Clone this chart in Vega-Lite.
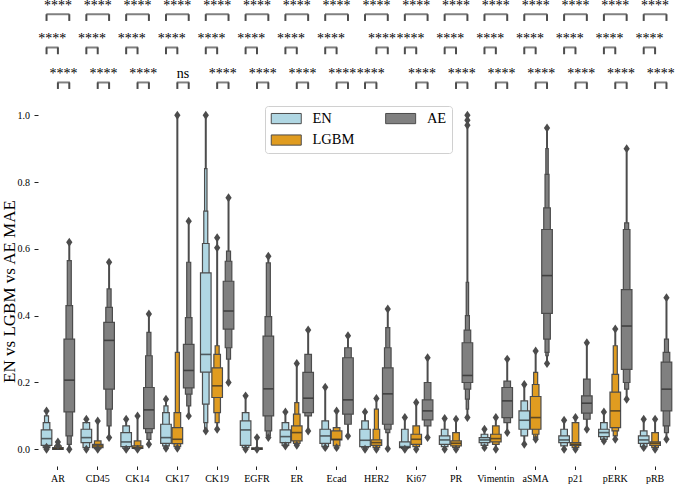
{
"$schema": "https://vega.github.io/schema/vega-lite/v6.json",
"width": 637, "height": 466,
"autosize": {"type": "none"},
"padding": {"left": 38, "top": 0, "right": 0, "bottom": 18},
"config": {"view": {"stroke": null}, "font": "Liberation Serif",
  "axis": {"labelFont": "Liberation Serif", "titleFont": "Liberation Serif", "labelColor": "#000", "titleColor": "#000", "domain": false, "grid": false, "tickColor": "#222", "labelFontSize": 10},
  "legend": {"orient": "none", "legendX": 227, "legendY": 106, "columns": 2,
    "symbolType": "M-1,-0.85H4V0.85H-1Z", "symbolSize": 144, "symbolStrokeColor": "#4c4c4c", "symbolStrokeWidth": 1, "symbolOpacity": 1,
    "labelFont": "Liberation Serif", "labelFontSize": 14.5, "labelColor": "#000", "labelOffset": 28, "columnPadding": 28.4, "rowPadding": 5.8,
    "padding": 5, "strokeColor": "#d0d0d0", "cornerRadius": 3, "fillColor": "#ffffff"}},
"datasets": {
"boxes": [
{"m":"AR","g":"EN","k":1,"lo":0.012,"hi":0.058},{"m":"AR","g":"EN","k":2,"lo":0.005,"hi":0.08},{"m":"AR","g":"EN","k":3,"lo":0.002,"hi":0.10},
{"m":"AR","g":"LGBM","k":1,"lo":0.0,"hi":0.005},{"m":"AR","g":"LGBM","k":2,"lo":0.0,"hi":0.01},
{"m":"AR","g":"AE","k":1,"lo":0.112,"hi":0.33},{"m":"AR","g":"AE","k":2,"lo":0.04,"hi":0.43},{"m":"AR","g":"AE","k":3,"lo":0.015,"hi":0.565},
{"m":"CD45","g":"EN","k":1,"lo":0.02,"hi":0.06},{"m":"CD45","g":"EN","k":2,"lo":0.005,"hi":0.08},
{"m":"CD45","g":"LGBM","k":1,"lo":0.005,"hi":0.015},{"m":"CD45","g":"LGBM","k":2,"lo":0.002,"hi":0.025},
{"m":"CD45","g":"AE","k":1,"lo":0.18,"hi":0.38},{"m":"CD45","g":"AE","k":2,"lo":0.12,"hi":0.425},{"m":"CD45","g":"AE","k":3,"lo":0.07,"hi":0.48},
{"m":"CK14","g":"EN","k":1,"lo":0.008,"hi":0.05},{"m":"CK14","g":"EN","k":2,"lo":0.003,"hi":0.07},
{"m":"CK14","g":"LGBM","k":1,"lo":0.003,"hi":0.01},{"m":"CK14","g":"LGBM","k":2,"lo":0.002,"hi":0.025},
{"m":"CK14","g":"AE","k":1,"lo":0.062,"hi":0.185},{"m":"CK14","g":"AE","k":2,"lo":0.05,"hi":0.28},{"m":"CK14","g":"AE","k":3,"lo":0.03,"hi":0.35},
{"m":"CK17","g":"EN","k":1,"lo":0.018,"hi":0.075},{"m":"CK17","g":"EN","k":2,"lo":0.01,"hi":0.11},{"m":"CK17","g":"EN","k":3,"lo":0.005,"hi":0.13},
{"m":"CK17","g":"LGBM","k":1,"lo":0.017,"hi":0.065},{"m":"CK17","g":"LGBM","k":2,"lo":0.008,"hi":0.11},{"m":"CK17","g":"LGBM","k":3,"lo":0.005,"hi":0.29},
{"m":"CK17","g":"AE","k":1,"lo":0.184,"hi":0.314},{"m":"CK17","g":"AE","k":2,"lo":0.165,"hi":0.394},{"m":"CK17","g":"AE","k":3,"lo":0.13,"hi":0.56},
{"m":"CK19","g":"EN","k":1,"lo":0.231,"hi":0.528},{"m":"CK19","g":"EN","k":2,"lo":0.135,"hi":0.616},{"m":"CK19","g":"EN","k":3,"lo":0.08,"hi":0.713},{"m":"CK19","g":"EN","k":4,"lo":0.06,"hi":0.84},
{"m":"CK19","g":"LGBM","k":1,"lo":0.155,"hi":0.244},{"m":"CK19","g":"LGBM","k":2,"lo":0.11,"hi":0.284},{"m":"CK19","g":"LGBM","k":3,"lo":0.08,"hi":0.31},
{"m":"CK19","g":"AE","k":1,"lo":0.36,"hi":0.503},{"m":"CK19","g":"AE","k":2,"lo":0.304,"hi":0.563},{"m":"CK19","g":"AE","k":3,"lo":0.27,"hi":0.593},
{"m":"EGFR","g":"EN","k":1,"lo":0.012,"hi":0.085},{"m":"EGFR","g":"EN","k":2,"lo":0.005,"hi":0.11},
{"m":"EGFR","g":"LGBM","k":1,"lo":0.0,"hi":0.004},
{"m":"EGFR","g":"AE","k":1,"lo":0.1,"hi":0.339},{"m":"EGFR","g":"AE","k":2,"lo":0.055,"hi":0.397},{"m":"EGFR","g":"AE","k":3,"lo":0.04,"hi":0.558},
{"m":"ER","g":"EN","k":1,"lo":0.02,"hi":0.058},{"m":"ER","g":"EN","k":2,"lo":0.012,"hi":0.08},
{"m":"ER","g":"LGBM","k":1,"lo":0.025,"hi":0.07},{"m":"ER","g":"LGBM","k":2,"lo":0.018,"hi":0.105},{"m":"ER","g":"LGBM","k":3,"lo":0.015,"hi":0.14},
{"m":"ER","g":"AE","k":1,"lo":0.11,"hi":0.23},{"m":"ER","g":"AE","k":2,"lo":0.1,"hi":0.284},
{"m":"Ecad","g":"EN","k":1,"lo":0.018,"hi":0.06},{"m":"Ecad","g":"EN","k":2,"lo":0.008,"hi":0.085},
{"m":"Ecad","g":"LGBM","k":1,"lo":0.028,"hi":0.055},{"m":"Ecad","g":"LGBM","k":2,"lo":0.01,"hi":0.065},
{"m":"Ecad","g":"AE","k":1,"lo":0.105,"hi":0.274},{"m":"Ecad","g":"AE","k":2,"lo":0.075,"hi":0.304},
{"m":"HER2","g":"EN","k":1,"lo":0.008,"hi":0.06},{"m":"HER2","g":"EN","k":2,"lo":0.004,"hi":0.085},
{"m":"HER2","g":"LGBM","k":1,"lo":0.012,"hi":0.028},{"m":"HER2","g":"LGBM","k":2,"lo":0.005,"hi":0.06},{"m":"HER2","g":"LGBM","k":3,"lo":0.003,"hi":0.12},
{"m":"HER2","g":"AE","k":1,"lo":0.075,"hi":0.244},{"m":"HER2","g":"AE","k":2,"lo":0.06,"hi":0.304},{"m":"HER2","g":"AE","k":3,"lo":0.05,"hi":0.364},
{"m":"Ki67","g":"EN","k":1,"lo":0.005,"hi":0.022},{"m":"Ki67","g":"EN","k":2,"lo":0.003,"hi":0.06},
{"m":"Ki67","g":"LGBM","k":1,"lo":0.015,"hi":0.045},{"m":"Ki67","g":"LGBM","k":2,"lo":0.008,"hi":0.07},
{"m":"Ki67","g":"AE","k":1,"lo":0.088,"hi":0.148},{"m":"Ki67","g":"AE","k":2,"lo":0.07,"hi":0.2},
{"m":"PR","g":"EN","k":1,"lo":0.015,"hi":0.04},{"m":"PR","g":"EN","k":2,"lo":0.008,"hi":0.06},
{"m":"PR","g":"LGBM","k":1,"lo":0.01,"hi":0.025},{"m":"PR","g":"LGBM","k":2,"lo":0.005,"hi":0.05},
{"m":"PR","g":"AE","k":1,"lo":0.2,"hi":0.319},{"m":"PR","g":"AE","k":2,"lo":0.18,"hi":0.357},{"m":"PR","g":"AE","k":3,"lo":0.15,"hi":0.4},{"m":"PR","g":"AE","k":4,"lo":0.12,"hi":0.5},
{"m":"Vimentin","g":"EN","k":1,"lo":0.02,"hi":0.035},{"m":"Vimentin","g":"EN","k":2,"lo":0.012,"hi":0.045},
{"m":"Vimentin","g":"LGBM","k":1,"lo":0.022,"hi":0.045},{"m":"Vimentin","g":"LGBM","k":2,"lo":0.015,"hi":0.07},
{"m":"Vimentin","g":"AE","k":1,"lo":0.095,"hi":0.185},{"m":"Vimentin","g":"AE","k":2,"lo":0.08,"hi":0.204},
{"m":"aSMA","g":"EN","k":1,"lo":0.06,"hi":0.115},{"m":"aSMA","g":"EN","k":2,"lo":0.04,"hi":0.145},
{"m":"aSMA","g":"LGBM","k":1,"lo":0.06,"hi":0.158},{"m":"aSMA","g":"LGBM","k":2,"lo":0.045,"hi":0.194},{"m":"aSMA","g":"LGBM","k":3,"lo":0.035,"hi":0.23},
{"m":"aSMA","g":"AE","k":1,"lo":0.407,"hi":0.658},{"m":"aSMA","g":"AE","k":2,"lo":0.33,"hi":0.723},{"m":"aSMA","g":"AE","k":3,"lo":0.29,"hi":0.823},{"m":"aSMA","g":"AE","k":4,"lo":0.28,"hi":0.9},
{"m":"p21","g":"EN","k":1,"lo":0.02,"hi":0.04},{"m":"p21","g":"EN","k":2,"lo":0.01,"hi":0.06},
{"m":"p21","g":"LGBM","k":1,"lo":0.012,"hi":0.02},{"m":"p21","g":"LGBM","k":2,"lo":0.005,"hi":0.08},
{"m":"p21","g":"AE","k":1,"lo":0.108,"hi":0.16},{"m":"p21","g":"AE","k":2,"lo":0.09,"hi":0.21},
{"m":"pERK","g":"EN","k":1,"lo":0.038,"hi":0.06},{"m":"pERK","g":"EN","k":2,"lo":0.03,"hi":0.08},
{"m":"pERK","g":"LGBM","k":1,"lo":0.065,"hi":0.171},{"m":"pERK","g":"LGBM","k":2,"lo":0.055,"hi":0.224},{"m":"pERK","g":"LGBM","k":3,"lo":0.04,"hi":0.31},
{"m":"pERK","g":"AE","k":1,"lo":0.239,"hi":0.478},{"m":"pERK","g":"AE","k":2,"lo":0.2,"hi":0.658},{"m":"pERK","g":"AE","k":3,"lo":0.18,"hi":0.678},
{"m":"pRB","g":"EN","k":1,"lo":0.018,"hi":0.04},{"m":"pRB","g":"EN","k":2,"lo":0.008,"hi":0.055},
{"m":"pRB","g":"LGBM","k":1,"lo":0.012,"hi":0.022},{"m":"pRB","g":"LGBM","k":2,"lo":0.005,"hi":0.05},
{"m":"pRB","g":"AE","k":1,"lo":0.115,"hi":0.261},{"m":"pRB","g":"AE","k":2,"lo":0.07,"hi":0.29},{"m":"pRB","g":"AE","k":3,"lo":0.05,"hi":0.33}
],
"stats": [
{"m":"AR","g":"EN","med":0.032,"lo":0.0,"hi":0.115},{"m":"AR","g":"LGBM","med":0.002,"lo":0.0,"hi":0.022},{"m":"AR","g":"AE","med":0.207,"lo":0.0,"hi":0.62},
{"m":"CD45","g":"EN","med":0.035,"lo":0.0,"hi":0.09},{"m":"CD45","g":"LGBM","med":0.01,"lo":0.0,"hi":0.085},{"m":"CD45","g":"AE","med":0.326,"lo":0.035,"hi":0.56},
{"m":"CK14","g":"EN","med":0.022,"lo":0.0,"hi":0.09},{"m":"CK14","g":"LGBM","med":0.005,"lo":0.0,"hi":0.1},{"m":"CK14","g":"AE","med":0.118,"lo":0.015,"hi":0.405},
{"m":"CK17","g":"EN","med":0.035,"lo":0.003,"hi":0.15},{"m":"CK17","g":"LGBM","med":0.03,"lo":0.003,"hi":1.0},{"m":"CK17","g":"AE","med":0.236,"lo":0.1,"hi":0.683},
{"m":"CK19","g":"EN","med":0.284,"lo":0.055,"hi":1.0},{"m":"CK19","g":"LGBM","med":0.19,"lo":0.06,"hi":0.633},{"m":"CK19","g":"AE","med":0.414,"lo":0.2,"hi":0.753},
{"m":"EGFR","g":"EN","med":0.058,"lo":0.0,"hi":0.16},{"m":"EGFR","g":"LGBM","med":0.002,"lo":0.0,"hi":0.035},{"m":"EGFR","g":"AE","med":0.181,"lo":0.035,"hi":0.578},
{"m":"ER","g":"EN","med":0.038,"lo":0.01,"hi":0.112},{"m":"ER","g":"LGBM","med":0.05,"lo":0.012,"hi":0.257},{"m":"ER","g":"AE","med":0.153,"lo":0.055,"hi":0.357},
{"m":"Ecad","g":"EN","med":0.04,"lo":0.005,"hi":0.186},{"m":"Ecad","g":"LGBM","med":0.03,"lo":0.005,"hi":0.115},{"m":"Ecad","g":"AE","med":0.148,"lo":0.04,"hi":0.34},
{"m":"HER2","g":"EN","med":0.027,"lo":0.0,"hi":0.112},{"m":"HER2","g":"LGBM","med":0.02,"lo":0.0,"hi":0.152},{"m":"HER2","g":"AE","med":0.166,"lo":0.002,"hi":0.42},
{"m":"Ki67","g":"EN","med":0.008,"lo":0.0,"hi":0.095},{"m":"Ki67","g":"LGBM","med":0.03,"lo":0.0,"hi":0.14},{"m":"Ki67","g":"AE","med":0.115,"lo":0.035,"hi":0.274},
{"m":"PR","g":"EN","med":0.028,"lo":0.0,"hi":0.092},{"m":"PR","g":"LGBM","med":0.018,"lo":0.0,"hi":0.09},{"m":"PR","g":"AE","med":0.221,"lo":0.095,"hi":1.0},
{"m":"Vimentin","g":"EN","med":0.028,"lo":0.005,"hi":0.06},{"m":"Vimentin","g":"LGBM","med":0.032,"lo":0.0,"hi":0.095},{"m":"Vimentin","g":"AE","med":0.145,"lo":0.05,"hi":0.27},
{"m":"aSMA","g":"EN","med":0.087,"lo":0.015,"hi":0.194},{"m":"aSMA","g":"LGBM","med":0.095,"lo":0.03,"hi":0.294},{"m":"aSMA","g":"AE","med":0.52,"lo":0.257,"hi":0.962},
{"m":"p21","g":"EN","med":0.028,"lo":0.0,"hi":0.087},{"m":"p21","g":"LGBM","med":0.015,"lo":0.0,"hi":0.095},{"m":"p21","g":"AE","med":0.138,"lo":0.06,"hi":0.319},
{"m":"pERK","g":"EN","med":0.05,"lo":0.025,"hi":0.112},{"m":"pERK","g":"LGBM","med":0.115,"lo":0.03,"hi":0.36},{"m":"pERK","g":"AE","med":0.369,"lo":0.15,"hi":0.9},
{"m":"pRB","g":"EN","med":0.028,"lo":0.005,"hi":0.09},{"m":"pRB","g":"LGBM","med":0.018,"lo":0.0,"hi":0.09},{"m":"pRB","g":"AE","med":0.18,"lo":0.03,"hi":0.454}
],
"out": [
{"m":"AR","g":"EN","v":0.115},{"m":"AR","g":"EN","v":0.0},{"m":"AR","g":"EN","v":0.006},{"m":"AR","g":"LGBM","v":0.022},{"m":"AR","g":"LGBM","v":0.012},{"m":"AR","g":"AE","v":0.62},{"m":"AR","g":"AE","v":0.0},
{"m":"CD45","g":"EN","v":0.09},{"m":"CD45","g":"EN","v":0.0},{"m":"CD45","g":"LGBM","v":0.085},{"m":"CD45","g":"LGBM","v":0.0},{"m":"CD45","g":"AE","v":0.56},{"m":"CD45","g":"AE","v":0.035},
{"m":"CK14","g":"EN","v":0.09},{"m":"CK14","g":"EN","v":0.0},{"m":"CK14","g":"LGBM","v":0.1},{"m":"CK14","g":"LGBM","v":0.0},{"m":"CK14","g":"AE","v":0.405},{"m":"CK14","g":"AE","v":0.015},
{"m":"CK17","g":"EN","v":0.15},{"m":"CK17","g":"EN","v":0.003},{"m":"CK17","g":"LGBM","v":1.0},{"m":"CK17","g":"LGBM","v":0.003},{"m":"CK17","g":"AE","v":0.683},{"m":"CK17","g":"AE","v":0.1},
{"m":"CK19","g":"EN","v":1.0},{"m":"CK19","g":"EN","v":0.055},{"m":"CK19","g":"LGBM","v":0.633},{"m":"CK19","g":"LGBM","v":0.603},{"m":"CK19","g":"LGBM","v":0.06},{"m":"CK19","g":"AE","v":0.753},{"m":"CK19","g":"AE","v":0.2},
{"m":"EGFR","g":"EN","v":0.16},{"m":"EGFR","g":"EN","v":0.0},{"m":"EGFR","g":"LGBM","v":0.035},{"m":"EGFR","g":"LGBM","v":0.0},{"m":"EGFR","g":"AE","v":0.578},{"m":"EGFR","g":"AE","v":0.035},
{"m":"ER","g":"EN","v":0.112},{"m":"ER","g":"EN","v":0.01},{"m":"ER","g":"LGBM","v":0.257},{"m":"ER","g":"LGBM","v":0.012},{"m":"ER","g":"AE","v":0.357},{"m":"ER","g":"AE","v":0.055},
{"m":"Ecad","g":"EN","v":0.186},{"m":"Ecad","g":"EN","v":0.005},{"m":"Ecad","g":"LGBM","v":0.115},{"m":"Ecad","g":"LGBM","v":0.005},{"m":"Ecad","g":"AE","v":0.34},{"m":"Ecad","g":"AE","v":0.04},
{"m":"HER2","g":"EN","v":0.112},{"m":"HER2","g":"EN","v":0.0},{"m":"HER2","g":"LGBM","v":0.152},{"m":"HER2","g":"LGBM","v":0.0},{"m":"HER2","g":"AE","v":0.42},{"m":"HER2","g":"AE","v":0.002},
{"m":"Ki67","g":"EN","v":0.095},{"m":"Ki67","g":"EN","v":0.0},{"m":"Ki67","g":"LGBM","v":0.14},{"m":"Ki67","g":"LGBM","v":0.0},{"m":"Ki67","g":"AE","v":0.274},{"m":"Ki67","g":"AE","v":0.035},
{"m":"PR","g":"EN","v":0.092},{"m":"PR","g":"EN","v":0.0},{"m":"PR","g":"LGBM","v":0.09},{"m":"PR","g":"LGBM","v":0.0},{"m":"PR","g":"AE","v":1.0},{"m":"PR","g":"AE","v":0.985},{"m":"PR","g":"AE","v":0.97},{"m":"PR","g":"AE","v":0.095},
{"m":"Vimentin","g":"EN","v":0.06},{"m":"Vimentin","g":"EN","v":0.005},{"m":"Vimentin","g":"LGBM","v":0.095},{"m":"Vimentin","g":"LGBM","v":0.0},{"m":"Vimentin","g":"AE","v":0.27},{"m":"Vimentin","g":"AE","v":0.05},
{"m":"aSMA","g":"EN","v":0.194},{"m":"aSMA","g":"EN","v":0.015},{"m":"aSMA","g":"LGBM","v":0.294},{"m":"aSMA","g":"LGBM","v":0.03},{"m":"aSMA","g":"AE","v":0.962},{"m":"aSMA","g":"AE","v":0.257},
{"m":"p21","g":"EN","v":0.087},{"m":"p21","g":"EN","v":0.0},{"m":"p21","g":"LGBM","v":0.095},{"m":"p21","g":"LGBM","v":0.0},{"m":"p21","g":"AE","v":0.319},{"m":"p21","g":"AE","v":0.06},
{"m":"pERK","g":"EN","v":0.112},{"m":"pERK","g":"EN","v":0.025},{"m":"pERK","g":"LGBM","v":0.36},{"m":"pERK","g":"LGBM","v":0.03},{"m":"pERK","g":"AE","v":0.9},{"m":"pERK","g":"AE","v":0.15},
{"m":"pRB","g":"EN","v":0.09},{"m":"pRB","g":"EN","v":0.005},{"m":"pRB","g":"LGBM","v":0.09},{"m":"pRB","g":"LGBM","v":0.0},{"m":"pRB","g":"AE","v":0.454},{"m":"pRB","g":"AE","v":0.03}
],
"sig": [
{"m":"AR","tier":1,"g1":"EN","g2":"AE","mid":"LGBM","label":"****"},{"m":"CD45","tier":1,"g1":"EN","g2":"AE","mid":"LGBM","label":"****"},{"m":"CK14","tier":1,"g1":"EN","g2":"AE","mid":"LGBM","label":"****"},{"m":"CK17","tier":1,"g1":"EN","g2":"AE","mid":"LGBM","label":"****"},
{"m":"CK19","tier":1,"g1":"EN","g2":"AE","mid":"LGBM","label":"****"},{"m":"EGFR","tier":1,"g1":"EN","g2":"AE","mid":"LGBM","label":"****"},{"m":"ER","tier":1,"g1":"EN","g2":"AE","mid":"LGBM","label":"****"},{"m":"Ecad","tier":1,"g1":"EN","g2":"AE","mid":"LGBM","label":"****"},
{"m":"HER2","tier":1,"g1":"EN","g2":"AE","mid":"LGBM","label":"****"},{"m":"Ki67","tier":1,"g1":"EN","g2":"AE","mid":"LGBM","label":"****"},{"m":"PR","tier":1,"g1":"EN","g2":"AE","mid":"LGBM","label":"****"},{"m":"Vimentin","tier":1,"g1":"EN","g2":"AE","mid":"LGBM","label":"****"},
{"m":"aSMA","tier":1,"g1":"EN","g2":"AE","mid":"LGBM","label":"****"},{"m":"p21","tier":1,"g1":"EN","g2":"AE","mid":"LGBM","label":"****"},{"m":"pERK","tier":1,"g1":"EN","g2":"AE","mid":"LGBM","label":"****"},{"m":"pRB","tier":1,"g1":"EN","g2":"AE","mid":"LGBM","label":"****"},
{"m":"AR","tier":2,"g1":"EN","g2":"LGBM","mid":"EN|LGBM","label":"****"},{"m":"CD45","tier":2,"g1":"EN","g2":"LGBM","mid":"EN|LGBM","label":"****"},{"m":"CK14","tier":2,"g1":"EN","g2":"LGBM","mid":"EN|LGBM","label":"****"},{"m":"CK17","tier":2,"g1":"EN","g2":"LGBM","mid":"EN|LGBM","label":"****"},
{"m":"CK19","tier":2,"g1":"EN","g2":"LGBM","mid":"EN|LGBM","label":"****"},{"m":"EGFR","tier":2,"g1":"EN","g2":"LGBM","mid":"EN|LGBM","label":"****"},{"m":"ER","tier":2,"g1":"EN","g2":"LGBM","mid":"EN|LGBM","label":"****"},{"m":"Ecad","tier":2,"g1":"EN","g2":"LGBM","mid":"EN|LGBM","label":"****"},
{"m":"HER2","tier":2,"g1":"LGBM","g2":"AE","mid":"LGBM|AE","label":"****"},{"m":"Ki67","tier":2,"g1":"EN","g2":"LGBM","mid":"EN|LGBM","label":"****"},{"m":"PR","tier":2,"g1":"EN","g2":"LGBM","mid":"EN|LGBM","label":"****"},{"m":"Vimentin","tier":2,"g1":"EN","g2":"LGBM","mid":"EN|LGBM","label":"****"},
{"m":"aSMA","tier":2,"g1":"EN","g2":"LGBM","mid":"EN|LGBM","label":"****"},{"m":"p21","tier":2,"g1":"EN","g2":"LGBM","mid":"EN|LGBM","label":"****"},{"m":"pERK","tier":2,"g1":"EN","g2":"LGBM","mid":"EN|LGBM","label":"****"},{"m":"pRB","tier":2,"g1":"EN","g2":"LGBM","mid":"EN|LGBM","label":"****"},
{"m":"AR","tier":3,"g1":"LGBM","g2":"AE","mid":"LGBM|AE","label":"****"},{"m":"CD45","tier":3,"g1":"LGBM","g2":"AE","mid":"LGBM|AE","label":"****"},{"m":"CK14","tier":3,"g1":"LGBM","g2":"AE","mid":"LGBM|AE","label":"****"},{"m":"CK17","tier":3,"g1":"LGBM","g2":"AE","mid":"LGBM|AE","label":"ns"},
{"m":"CK19","tier":3,"g1":"LGBM","g2":"AE","mid":"LGBM|AE","label":"****"},{"m":"EGFR","tier":3,"g1":"LGBM","g2":"AE","mid":"LGBM|AE","label":"****"},{"m":"ER","tier":3,"g1":"LGBM","g2":"AE","mid":"LGBM|AE","label":"****"},{"m":"Ecad","tier":3,"g1":"LGBM","g2":"AE","mid":"LGBM|AE","label":"****"},
{"m":"HER2","tier":3,"g1":"EN","g2":"LGBM","mid":"EN|LGBM","label":"****"},{"m":"Ki67","tier":3,"g1":"LGBM","g2":"AE","mid":"LGBM|AE","label":"****"},{"m":"PR","tier":3,"g1":"LGBM","g2":"AE","mid":"LGBM|AE","label":"****"},{"m":"Vimentin","tier":3,"g1":"LGBM","g2":"AE","mid":"LGBM|AE","label":"****"},
{"m":"aSMA","tier":3,"g1":"LGBM","g2":"AE","mid":"LGBM|AE","label":"****"},{"m":"p21","tier":3,"g1":"LGBM","g2":"AE","mid":"LGBM|AE","label":"****"},{"m":"pERK","tier":3,"g1":"LGBM","g2":"AE","mid":"LGBM|AE","label":"****"},{"m":"pRB","tier":3,"g1":"LGBM","g2":"AE","mid":"LGBM|AE","label":"****"}
]
},
"encoding": {
  "x": {"field": "m", "type": "nominal", "sort": ["AR","CD45","CK14","CK17","CK19","EGFR","ER","Ecad","HER2","Ki67","PR","Vimentin","aSMA","p21","pERK","pRB"],
    "scale": {"paddingInner": 0, "paddingOuter": 0},
    "axis": {"title": null, "labelAngle": 0, "tickSize": 3.5, "labelPadding": 3.5, "labelFontSize": 10}}
},
"layer": [
  {"data": {"name": "stats"},
   "mark": {"type": "rule", "stroke": "#4c4c4c", "strokeWidth": 2},
   "encoding": {
     "xOffset": {"field": "g", "type": "nominal", "scale": {"domain": ["EN","EN|LGBM","LGBM","LGBM|AE","AE"], "paddingInner": 0, "paddingOuter": 1.25}},
     "y": {"field": "lo", "type": "quantitative", "scale": {"domain": [-0.05, 1.345], "nice": false, "zero": false}, "title": "EN vs LGBM vs AE MAE",
       "axis": {"values": [0, 0.2, 0.4, 0.6, 0.8, 1.0], "format": ".1f", "tickSize": 4, "labelPadding": 4.5, "labelFontSize": 10,
         "titleFontSize": 17, "titleFontWeight": "normal", "titleX": -24, "titleY": 291, "titleBaseline": "alphabetic", "titleAlign": "center", "titleAngle": 270}},
     "y2": {"field": "hi"}
   }},
  {"data": {"name": "boxes"}, "transform": [{"filter": "datum.k == 4"}],
   "mark": {"type": "bar", "width": 2.4, "stroke": "#4c4c4c", "strokeWidth": 1.2},
   "encoding": {
     "xOffset": {"field": "g", "type": "nominal"},
     "y": {"field": "lo", "type": "quantitative", "scale": {"domain": [-0.05, 1.345], "nice": false, "zero": false}, "title": "EN vs LGBM vs AE MAE",
       "axis": {"values": [0, 0.2, 0.4, 0.6, 0.8, 1.0], "format": ".1f", "tickSize": 4, "labelPadding": 4.5, "labelFontSize": 10,
         "titleFontSize": 17, "titleFontWeight": "normal", "titleX": -24, "titleY": 291, "titleBaseline": "alphabetic", "titleAlign": "center", "titleAngle": 270}},
     "y2": {"field": "hi"},
     "color": {"field": "g", "type": "nominal", "title": null, "scale": {"domain": ["EN","LGBM","AE"], "range": ["#b0d7e3","#e09c20","#808080"]}}
   }},
  {"data": {"name": "boxes"}, "transform": [{"filter": "datum.k == 3"}],
   "mark": {"type": "bar", "width": 4, "stroke": "#4c4c4c", "strokeWidth": 1.2},
   "encoding": {
     "xOffset": {"field": "g", "type": "nominal"},
     "y": {"field": "lo", "type": "quantitative", "scale": {"domain": [-0.05, 1.345], "nice": false, "zero": false}, "title": "EN vs LGBM vs AE MAE",
       "axis": {"values": [0, 0.2, 0.4, 0.6, 0.8, 1.0], "format": ".1f", "tickSize": 4, "labelPadding": 4.5, "labelFontSize": 10,
         "titleFontSize": 17, "titleFontWeight": "normal", "titleX": -24, "titleY": 291, "titleBaseline": "alphabetic", "titleAlign": "center", "titleAngle": 270}},
     "y2": {"field": "hi"},
     "color": {"field": "g", "type": "nominal", "title": null, "scale": {"domain": ["EN","LGBM","AE"], "range": ["#b0d7e3","#e09c20","#808080"]}}
   }},
  {"data": {"name": "boxes"}, "transform": [{"filter": "datum.k == 2"}],
   "mark": {"type": "bar", "width": 6.6, "stroke": "#4c4c4c", "strokeWidth": 1.2},
   "encoding": {
     "xOffset": {"field": "g", "type": "nominal"},
     "y": {"field": "lo", "type": "quantitative", "scale": {"domain": [-0.05, 1.345], "nice": false, "zero": false}, "title": "EN vs LGBM vs AE MAE",
       "axis": {"values": [0, 0.2, 0.4, 0.6, 0.8, 1.0], "format": ".1f", "tickSize": 4, "labelPadding": 4.5, "labelFontSize": 10,
         "titleFontSize": 17, "titleFontWeight": "normal", "titleX": -24, "titleY": 291, "titleBaseline": "alphabetic", "titleAlign": "center", "titleAngle": 270}},
     "y2": {"field": "hi"},
     "color": {"field": "g", "type": "nominal", "title": null, "scale": {"domain": ["EN","LGBM","AE"], "range": ["#b0d7e3","#e09c20","#808080"]}}
   }},
  {"data": {"name": "boxes"}, "transform": [{"filter": "datum.k == 1"}],
   "mark": {"type": "bar", "width": 10.6, "stroke": "#4c4c4c", "strokeWidth": 1.2},
   "encoding": {
     "xOffset": {"field": "g", "type": "nominal"},
     "y": {"field": "lo", "type": "quantitative", "scale": {"domain": [-0.05, 1.345], "nice": false, "zero": false}, "title": "EN vs LGBM vs AE MAE",
       "axis": {"values": [0, 0.2, 0.4, 0.6, 0.8, 1.0], "format": ".1f", "tickSize": 4, "labelPadding": 4.5, "labelFontSize": 10,
         "titleFontSize": 17, "titleFontWeight": "normal", "titleX": -24, "titleY": 291, "titleBaseline": "alphabetic", "titleAlign": "center", "titleAngle": 270}},
     "y2": {"field": "hi"},
     "color": {"field": "g", "type": "nominal", "title": null, "scale": {"domain": ["EN","LGBM","AE"], "range": ["#b0d7e3","#e09c20","#808080"]}}
   }},
  {"data": {"name": "stats"},
   "mark": {"type": "tick", "size": 10, "thickness": 1.6, "color": "#262626"},
   "encoding": {
     "xOffset": {"field": "g", "type": "nominal"},
     "y": {"field": "med", "type": "quantitative", "scale": {"domain": [-0.05, 1.345], "nice": false, "zero": false}, "title": "EN vs LGBM vs AE MAE",
       "axis": {"values": [0, 0.2, 0.4, 0.6, 0.8, 1.0], "format": ".1f", "tickSize": 4, "labelPadding": 4.5, "labelFontSize": 10,
         "titleFontSize": 17, "titleFontWeight": "normal", "titleX": -24, "titleY": 291, "titleBaseline": "alphabetic", "titleAlign": "center", "titleAngle": 270}}
   }},
  {"data": {"name": "out"},
   "mark": {"type": "point", "shape": "M0,-1L0.7,0L0,1L-0.7,0Z", "size": 80, "filled": true, "color": "#4c4c4c", "opacity": 1},
   "encoding": {
     "xOffset": {"field": "g", "type": "nominal"},
     "y": {"field": "v", "type": "quantitative", "scale": {"domain": [-0.05, 1.345], "nice": false, "zero": false}, "title": "EN vs LGBM vs AE MAE",
       "axis": {"values": [0, 0.2, 0.4, 0.6, 0.8, 1.0], "format": ".1f", "tickSize": 4, "labelPadding": 4.5, "labelFontSize": 10,
         "titleFontSize": 17, "titleFontWeight": "normal", "titleX": -24, "titleY": 291, "titleBaseline": "alphabetic", "titleAlign": "center", "titleAngle": 270}}
   }},
  {"data": {"name": "sig"}, "transform": [{"filter": "datum.tier == 1"}],
   "layer": [
     {"mark": {"type": "rule", "stroke": "#4c4c4c", "strokeWidth": 2},
      "encoding": {"xOffset": {"field": "g1", "type": "nominal"},
        "y": {"datum": 1.2823, "type": "quantitative", "scale": {"domain": [-0.05, 1.345], "nice": false, "zero": false}, "title": "EN vs LGBM vs AE MAE",
       "axis": {"values": [0, 0.2, 0.4, 0.6, 0.8, 1.0], "format": ".1f", "tickSize": 4, "labelPadding": 4.5, "labelFontSize": 10,
         "titleFontSize": 17, "titleFontWeight": "normal", "titleX": -24, "titleY": 291, "titleBaseline": "alphabetic", "titleAlign": "center", "titleAngle": 270}}, "y2": {"datum": 1.3024}}},
     {"mark": {"type": "rule", "stroke": "#4c4c4c", "strokeWidth": 2},
      "encoding": {"xOffset": {"field": "g2", "type": "nominal"},
        "y": {"datum": 1.2823, "type": "quantitative"}, "y2": {"datum": 1.3024}}},
     {"mark": {"type": "tick", "size": 23.2, "thickness": 2, "color": "#4c4c4c"},
      "encoding": {"xOffset": {"field": "mid", "type": "nominal"},
        "y": {"datum": 1.3024, "type": "quantitative"}}},
     {"mark": {"type": "text", "fontSize": 14, "baseline": "alphabetic", "align": "center", "color": "#000"},
      "encoding": {"xOffset": {"field": "mid", "type": "nominal"}, "text": {"field": "label"},
        "y": {"datum": 1.3155, "type": "quantitative"}}}
   ]},
  {"data": {"name": "sig"}, "transform": [{"filter": "datum.tier == 2"}],
   "layer": [
     {"mark": {"type": "rule", "stroke": "#4c4c4c", "strokeWidth": 2},
      "encoding": {"xOffset": {"field": "g1", "type": "nominal"},
        "y": {"datum": 1.1826, "type": "quantitative"}, "y2": {"datum": 1.203}}},
     {"mark": {"type": "rule", "stroke": "#4c4c4c", "strokeWidth": 2},
      "encoding": {"xOffset": {"field": "g2", "type": "nominal"},
        "y": {"datum": 1.1826, "type": "quantitative"}, "y2": {"datum": 1.203}}},
     {"mark": {"type": "tick", "size": 12.6, "thickness": 2, "color": "#4c4c4c"},
      "encoding": {"xOffset": {"field": "mid", "type": "nominal"},
        "y": {"datum": 1.203, "type": "quantitative"}}},
     {"mark": {"type": "text", "fontSize": 14, "baseline": "alphabetic", "align": "center", "color": "#000"},
      "encoding": {"xOffset": {"field": "mid", "type": "nominal"}, "text": {"field": "label"},
        "y": {"datum": 1.2165, "type": "quantitative"}}}
   ]},
  {"data": {"name": "sig"}, "transform": [{"filter": "datum.tier == 3"}],
   "layer": [
     {"mark": {"type": "rule", "stroke": "#4c4c4c", "strokeWidth": 2},
      "encoding": {"xOffset": {"field": "g1", "type": "nominal"},
        "y": {"datum": 1.0787, "type": "quantitative"}, "y2": {"datum": 1.0982}}},
     {"mark": {"type": "rule", "stroke": "#4c4c4c", "strokeWidth": 2},
      "encoding": {"xOffset": {"field": "g2", "type": "nominal"},
        "y": {"datum": 1.0787, "type": "quantitative"}, "y2": {"datum": 1.0982}}},
     {"mark": {"type": "tick", "size": 12.6, "thickness": 2, "color": "#4c4c4c"},
      "encoding": {"xOffset": {"field": "mid", "type": "nominal"},
        "y": {"datum": 1.0982, "type": "quantitative"}}},
     {"mark": {"type": "text", "fontSize": 14, "baseline": "alphabetic", "align": "center", "color": "#000"},
      "encoding": {"xOffset": {"field": "mid", "type": "nominal"}, "text": {"field": "label"},
        "y": {"datum": 1.1117, "type": "quantitative"}}}
   ]}
]
}
